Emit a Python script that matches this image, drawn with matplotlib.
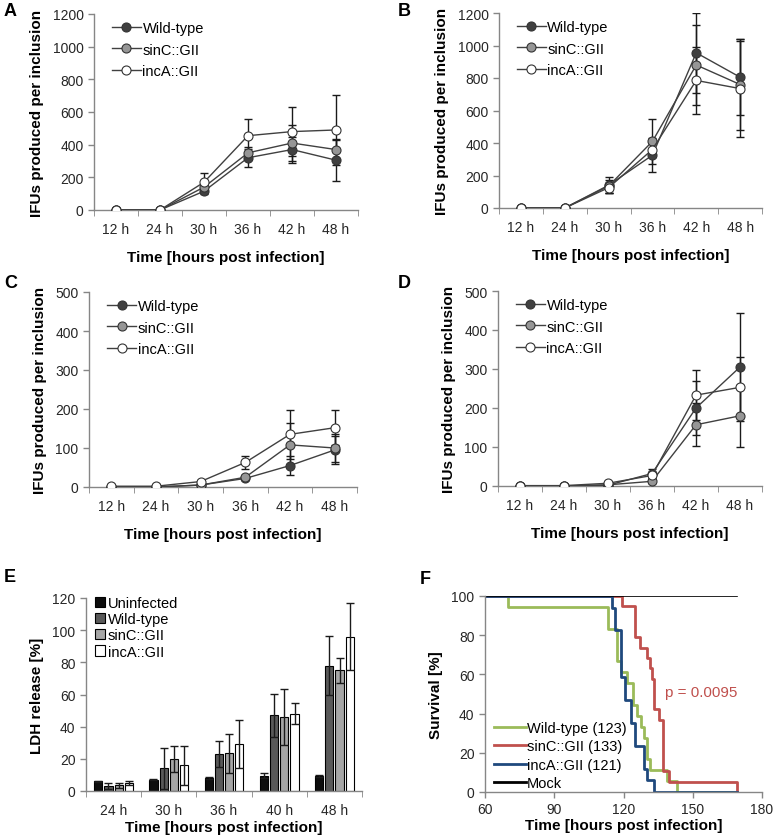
import matplotlib
matplotlib.use('Agg')
import matplotlib.pyplot as plt
from matplotlib.patches import Patch
from matplotlib.lines import Line2D
import numpy as np

plt.rcParams['font.family'] = ['Liberation Sans', 'DejaVu Sans']

# growth curves (panels A-D)
hours = ['12 h', '24 h', '30 h', '36 h', '42 h', '48 h']
strains = ['Wild-type', 'sinC::GII', 'incA::GII']

a_wt = [0, 0, 115, 320, 370, 305]
a_wt_err = [0, 0, 15, 55, 80, 125]
a_sinc = [0, 0, 140, 350, 410, 370]
a_sinc_err = [0, 0, 20, 35, 110, 65]
a_inca = [0, 0, 170, 455, 480, 490]
a_inca_err = [0, 0, 55, 105, 150, 215]

b_wt = [0, 0, 140, 325, 955, 805]
b_wt_err = [0, 0, 50, 105, 245, 235]
b_sinc = [0, 0, 135, 410, 880, 760]
b_sinc_err = [0, 0, 40, 140, 245, 280]
b_inca = [0, 0, 125, 360, 785, 735]
b_inca_err = [0, 0, 30, 45, 205, 295]

c_wt = [0, 0, 5, 22, 55, 95]
c_wt_err = [0, 0, 2, 3, 25, 35]
c_sinc = [0, 0, 5, 25, 108, 100]
c_sinc_err = [0, 0, 2, 5, 55, 35]
c_inca = [2, 2, 14, 63, 135, 152]
c_inca_err = [0, 0, 3, 17, 62, 45]

d_wt = [0, 0, 2, 32, 200, 305]
d_wt_err = [0, 0, 2, 12, 70, 138]
d_sinc = [0, 0, 3, 12, 157, 180]
d_sinc_err = [0, 0, 1, 4, 55, 80]
d_inca = [1, 1, 7, 27, 233, 253]
d_inca_err = [0, 0, 2, 8, 65, 77]

# LDH release (panel E)
ldh_hours = ['24 h', '30 h', '36 h', '40 h', '48 h']
ldh_groups = ['Uninfected', 'Wild-type', 'sinC::GII', 'incA::GII']
ldh_uninf = [6, 7, 8, 9.5, 9.5]
ldh_uninf_err = [0.5, 0.3, 0.5, 1.5, 0.5]
ldh_wt = [3, 14, 23, 47, 78]
ldh_wt_err = [2, 13, 8, 13.5, 18.5]
ldh_sinc = [3.5, 20, 23.5, 46, 75]
ldh_sinc_err = [1.5, 8, 12, 17.5, 8]
ldh_inca = [5, 16, 29, 48, 96]
ldh_inca_err = [1.5, 12, 15, 6.5, 21]

# survival (panel F)
surv_wt_t = [60, 70, 113.5, 117, 119, 121.5, 124, 126, 127.5, 129, 130, 131.5, 139, 143, 169]
surv_wt = [100, 94.4, 83.3, 66.7, 61.1, 55.6, 44.4, 38.9, 33.3, 27.8, 16.7, 11.1, 5.6, 0, 0]
surv_sinc_t = [60, 119.5, 125, 127.3, 130.3, 131.5, 132.5, 133.4, 135.5, 137.3, 139.5, 169]
surv_sinc = [100, 94.7, 78.9, 73.7, 68.4, 63.2, 57.9, 42.1, 36.8, 10.5, 5.3, 0]
surv_inca_t = [60, 115, 116.3, 118.8, 120.7, 123.3, 125, 128.8, 130, 133, 169]
surv_inca = [100, 94.1, 82.4, 58.8, 47.1, 35.3, 23.5, 11.8, 5.9, 0, 0]
surv_mock_t = [60, 169]
surv_mock = [100, 100]

W, H = 773, 837
AX_GREY = '#868686'
TXT = '#262626'

fig = plt.figure(figsize=(W / 100, H / 100), dpi=100)


def make_ax(left, top, right, bottom):
    ax = fig.add_axes([left / W, 1 - bottom / H, (right - left) / W, (bottom - top) / H])
    for s in ['top', 'right']:
        ax.spines[s].set_visible(False)
    for s in ['left', 'bottom']:
        ax.spines[s].set_color(AX_GREY)
        ax.spines[s].set_linewidth(1)
    ax.tick_params(colors=AX_GREY, labelcolor=TXT, labelsize=10, length=4, width=1)
    return ax


def growth_panel(ax, series, errs, ymax, step):
    x = np.arange(len(hours))
    faces = ['#404040', '#969696', 'white']
    for y, e, fc, lab in zip(series, errs, faces, strains):
        ax.errorbar(x, y, yerr=e, fmt='none', ecolor='#1a1a1a', elinewidth=1, capsize=3, capthick=1, zorder=2)
        ax.plot(x, y, color='#404040', lw=1, marker='o', markersize=6.5, markerfacecolor=fc,
                markeredgecolor='#333333', markeredgewidth=0.8, label=lab, zorder=3)
    ax.set_xlim(-0.5, len(hours) - 0.5)
    ax.set_ylim(0, ymax)
    ax.set_yticks(np.arange(0, ymax + 1, step))
    ax.set_xticks(x)
    ax.set_xticklabels(hours)
    ax.set_xticks(np.arange(-0.5, len(hours), 1), minor=True)
    ax.tick_params(axis='x', which='major', length=0, pad=9)
    ax.tick_params(axis='x', which='minor', length=4, color=AX_GREY)
    ax.set_xlabel('Time [hours post infection]', fontsize=11, fontweight='bold', labelpad=10)
    ax.set_ylabel('IFUs produced per inclusion', fontsize=11, fontweight='bold', labelpad=6)
    ax.legend(loc='upper left', frameon=False, fontsize=10.5, handlelength=2.0, labelspacing=0.5,
              handletextpad=0.1, borderaxespad=0.1, bbox_to_anchor=(0.04, 1.0))


axA = make_ax(94, 15, 358, 211)
growth_panel(axA, [a_wt, a_sinc, a_inca], [a_wt_err, a_sinc_err, a_inca_err], 1200, 200)
axB = make_ax(499, 14, 762, 209)
growth_panel(axB, [b_wt, b_sinc, b_inca], [b_wt_err, b_sinc_err, b_inca_err], 1200, 200)
axC = make_ax(89, 293, 357, 488)
growth_panel(axC, [c_wt, c_sinc, c_inca], [c_wt_err, c_sinc_err, c_inca_err], 500, 100)
axD = make_ax(498, 292, 762, 487)
growth_panel(axD, [d_wt, d_sinc, d_inca], [d_wt_err, d_sinc_err, d_inca_err], 500, 100)

# panel E
axE = make_ax(86, 599, 362, 792)
xe = np.arange(len(ldh_hours))
bar_w = 0.15
spacing = 0.185
bar_colors = ['#0d0d0d', '#595959', '#a6a6a6', 'white']
for i, (vals, errs, col, lab) in enumerate(zip([ldh_uninf, ldh_wt, ldh_sinc, ldh_inca],
                                               [ldh_uninf_err, ldh_wt_err, ldh_sinc_err, ldh_inca_err],
                                               bar_colors, ldh_groups)):
    pos = xe + (i - 1.5) * spacing
    axE.bar(pos, vals, width=bar_w, color=col, edgecolor='black', linewidth=0.8, label=lab, zorder=2)
    axE.errorbar(pos, vals, yerr=errs, fmt='none', ecolor='#1a1a1a', elinewidth=1, capsize=3, capthick=1, zorder=3)
axE.set_xlim(-0.5, len(ldh_hours) - 0.5)
axE.set_ylim(0, 120)
axE.set_yticks(np.arange(0, 121, 20))
axE.set_xticks(xe)
axE.set_xticklabels(ldh_hours)
axE.set_xticks(np.arange(-0.5, len(ldh_hours), 1), minor=True)
axE.tick_params(axis='x', which='major', length=0, pad=9)
axE.tick_params(axis='x', which='minor', length=4, color=AX_GREY)
axE.set_xlabel('Time [hours post infection]', fontsize=11, fontweight='bold', labelpad=2)
axE.set_ylabel('LDH release [%]', fontsize=11, fontweight='bold', labelpad=6)
handlesE = [Patch(facecolor=c, edgecolor='black', linewidth=0.8) for c in bar_colors]
axE.legend(handlesE, ldh_groups, loc='upper left', frameon=False, fontsize=10.5, handlelength=0.7,
           handleheight=0.7, labelspacing=0.15, handletextpad=0.2, borderaxespad=0.0,
           bbox_to_anchor=(0.01, 1.04))

# panel F
axF = make_ax(485, 597, 762, 793)
surv_colors = ['#9bbb59', '#c0504d', '#1f497d', 'black']
surv_labels = ['Wild-type (123)', 'sinC::GII (133)', 'incA::GII (121)', 'Mock']
for t, s, c in zip([surv_wt_t, surv_sinc_t, surv_inca_t, surv_mock_t],
                   [surv_wt, surv_sinc, surv_inca, surv_mock], surv_colors):
    axF.step(t, s, where='post', color=c, lw=2 if c != 'black' else 1.2)
axF.set_xlim(60, 180)
axF.set_ylim(0, 100)
axF.set_xticks(np.arange(60, 181, 30))
axF.set_yticks(np.arange(0, 101, 20))
axF.tick_params(axis='x', pad=3)
axF.set_xlabel('Time [hours post infection]', fontsize=11, fontweight='bold', labelpad=2)
axF.set_ylabel('Survival [%]', fontsize=11, fontweight='bold', labelpad=6)
axF.text(138, 51, 'p = 0.0095', color='#c0504d', fontsize=11, va='center', ha='left')
handlesF = [Line2D([0], [0], color=c, lw=2) for c in surv_colors]
axF.legend(handlesF, surv_labels, loc='lower left', frameon=False, fontsize=10.5, handlelength=2.2,
           labelspacing=0.3, handletextpad=0.1, borderaxespad=0.0, bbox_to_anchor=(0.01, -0.02))

# panel letters
for lab, (px, py) in zip('ABCDEF', [(4, 12), (398, 12), (4, 283), (398, 284), (4, 577), (420, 580)]):
    fig.text(px / W, 1 - py / H, lab, fontsize=13, fontweight='bold', va='center', ha='left')

fig.savefig('out.png', dpi=100)
